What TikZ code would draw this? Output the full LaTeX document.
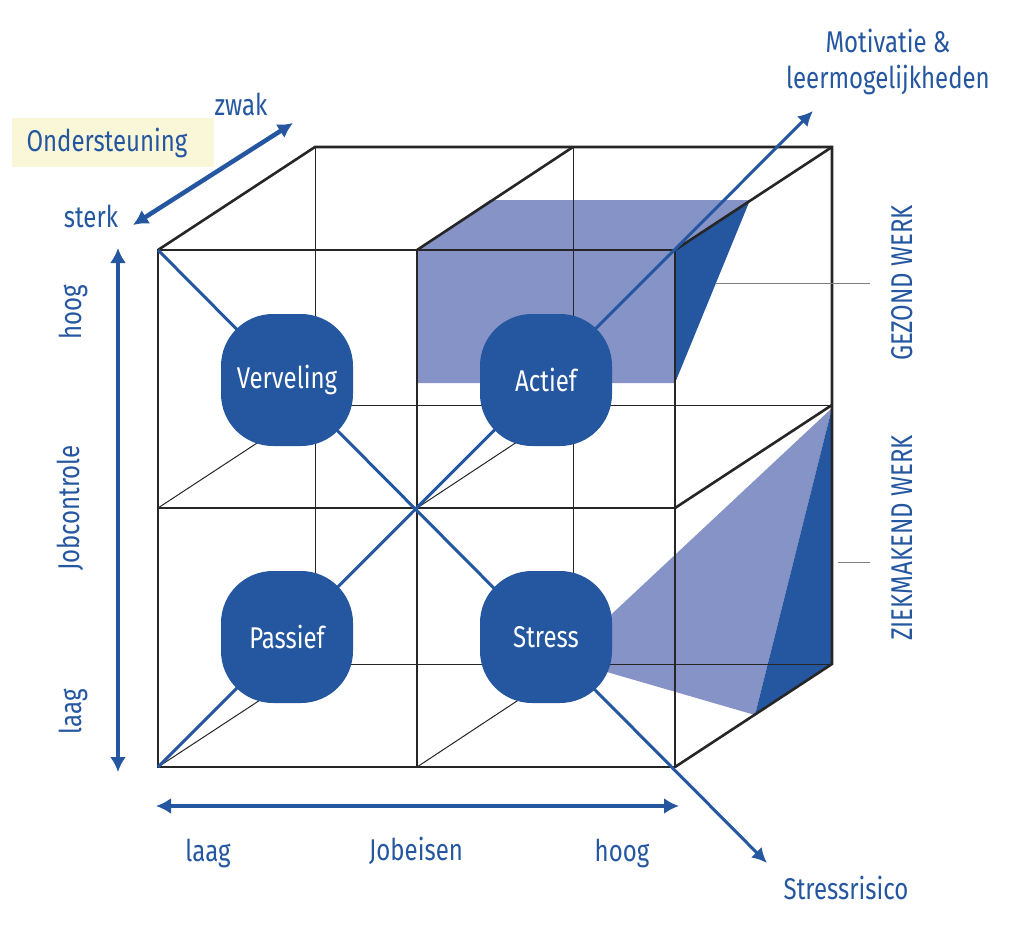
\documentclass[tikz,border=0pt]{standalone}
\usepackage{fontspec}
\setmainfont{Fira Sans}[FakeStretch=0.8]
\usetikzlibrary{arrows.meta}
\definecolor{bl}{HTML}{2557A0}
\definecolor{lb}{HTML}{8593C6}
\definecolor{hl}{HTML}{FAF7D8}
\begin{document}
\begin{tikzpicture}[x=1pt,y=-1pt,
 thick/.style={line width=2.6pt,black!85},
 thin/.style={line width=1pt,black!85},
 bar/.style={line width=4.5pt,bl,{Latex[length=15pt,width=16pt]}-{Latex[length=15pt,width=16pt]}},
 diag/.style={line width=3pt,bl},
 lab/.style={text=bl,font=\fontsize{30}{36}\selectfont},
 circ/.style={fill=bl,rounded corners=52pt,minimum size=132pt,inner sep=0pt,text=white,font=\fontsize{30}{34}\selectfont}]
\useasboundingbox (0,0) rectangle (1024,926);
% shading
\fill[lb] (417,250) -- (490,200) -- (750,200) -- (675,250) -- (675,383) -- (417,383) -- cycle;
\fill[bl] (675,250) -- (750,200) -- (675,383) -- cycle;
\fill[lb] (832,408) -- (600,625) -- (600,670) -- (755,715) -- cycle;
\fill[bl] (832,408) -- (832,664) -- (755,715) -- cycle;
% thin back lines
\draw[thin] (315,147) -- (315,664) -- (832,664);
\draw[thin] (573,147) -- (573,664);
\draw[thin] (315,405) -- (832,405);
\draw[thin] (158,767) -- (315,664);
\draw[thin] (158,508) -- (315,405);
\draw[thin] (417,508) -- (573,405);
\draw[thin] (417,767) -- (573,664);
% thick
\draw[thick] (158,250) rectangle (675,767);
\draw[thick] (417,250) -- (417,767);
\draw[thick] (158,508) -- (675,508);
\draw[thick] (158,250) -- (315,147) -- (832,147) -- (832,664) -- (675,767);
\draw[thick] (675,250) -- (832,147);
\draw[thick] (417,250) -- (573,147);
\draw[thick] (675,508) -- (832,405);
% grey ticks
\draw[gray,line width=1pt] (715,283) -- (870,283);
\draw[gray,line width=1pt] (838,562) -- (870,562);
% diagonals
\coordinate (tl) at (158,250); \coordinate (bl0) at (158,767);
\coordinate (sr) at (767,863); \coordinate (mo) at (813,111);
\draw[diag,-{Latex[length=15pt,width=15pt]}] (tl) -- (sr);
\draw[diag,-{Latex[length=15pt,width=15pt]}] (bl0) -- (mo);
% circles
\node[circ] (v) at (287,380) {Verveling};
\node[circ] (a) at (546,380) {Actief};
\node[circ] (p) at (287,637) {Passief};
\node[circ] (s) at (546,637) {Stress};
% axes
\coordinate (y1) at (118,248); \coordinate (y2) at (118,772);
\draw[bar] (y1) -- (y2);
\coordinate (x1) at (156,806); \coordinate (x2) at (679,806);
\draw[bar] (x1) -- (x2);
\coordinate (d1) at (133,225); \coordinate (d2) at (293,123);
\draw[bar] (d1) -- (d2);
% labels
\fill[hl] (12,118) rectangle (214,167);
\node[lab] (ond) at (107,143) {Ondersteuning};
\node[lab] (zw) at (241,104) {zwak};
\node[lab] (st) at (91,216) {sterk};
\node[lab,rotate=90] (h1) at (73,312) {hoog};
\node[lab,rotate=90] (jc) at (70,508) {Jobcontrole};
\node[lab,rotate=90] (l1) at (73,712) {laag};
\node[lab] (l2) at (208,853) {laag};
\node[lab] (je) at (416,851) {Jobeisen};
\node[lab] (h2) at (622,853) {hoog};
\node[lab] (srl) at (846,888) {Stressrisico};
\node[lab,align=center] (mol) at (888,62) {Motivatie \&\\leermogelijkheden};
\node[lab,rotate=90] (gw) at (902,283) {GEZOND WERK};
\node[lab,rotate=90] (zk) at (902,538) {ZIEKMAKEND WERK};
\end{tikzpicture}
\end{document}
